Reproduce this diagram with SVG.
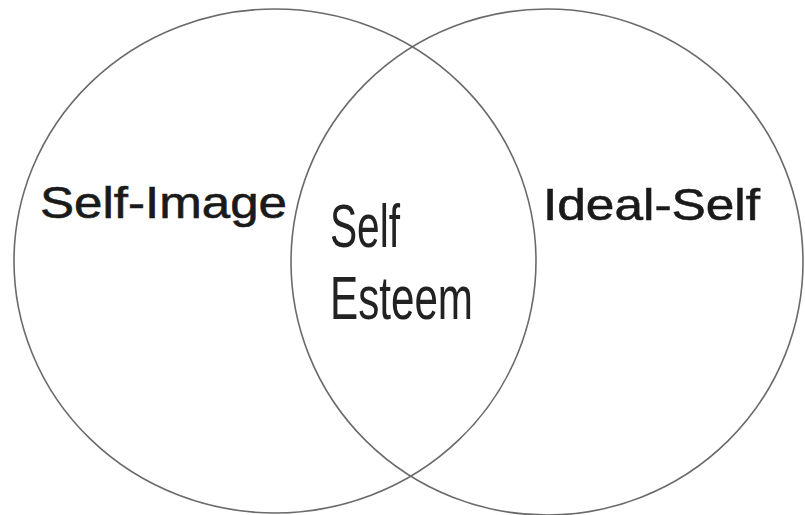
<svg xmlns="http://www.w3.org/2000/svg" width="805" height="515" viewBox="0 0 805 515">
<style>
.ring{fill:none;stroke:#6a6a6a;stroke-width:1.6}
.lab{font-family:"Liberation Sans",Arial,sans-serif;fill:#1a1a1a;stroke:#1a1a1a;stroke-width:0.6;font-size:45px}
.mid{font-family:"Liberation Sans",Arial,sans-serif;fill:#222;font-size:62px}
</style>
<rect width="805" height="515" fill="#ffffff"/>
<g id="self-image">
<ellipse class="ring" cx="275" cy="261" rx="261" ry="252"/>
<text class="lab" x="40" y="218" textLength="247" lengthAdjust="spacingAndGlyphs">Self-Image</text>
</g>
<g id="ideal-self">
<ellipse class="ring" cx="547" cy="262" rx="256" ry="253"/>
<text class="lab" x="543" y="220" textLength="217" lengthAdjust="spacingAndGlyphs">Ideal-Self</text>
</g>
<g id="self-esteem">
<text class="mid" x="330" y="247" textLength="70" lengthAdjust="spacingAndGlyphs">Self</text>
<text class="mid" x="330" y="319" textLength="143" lengthAdjust="spacingAndGlyphs">Esteem</text>
</g>
<g id="connectors"/>
</svg>
